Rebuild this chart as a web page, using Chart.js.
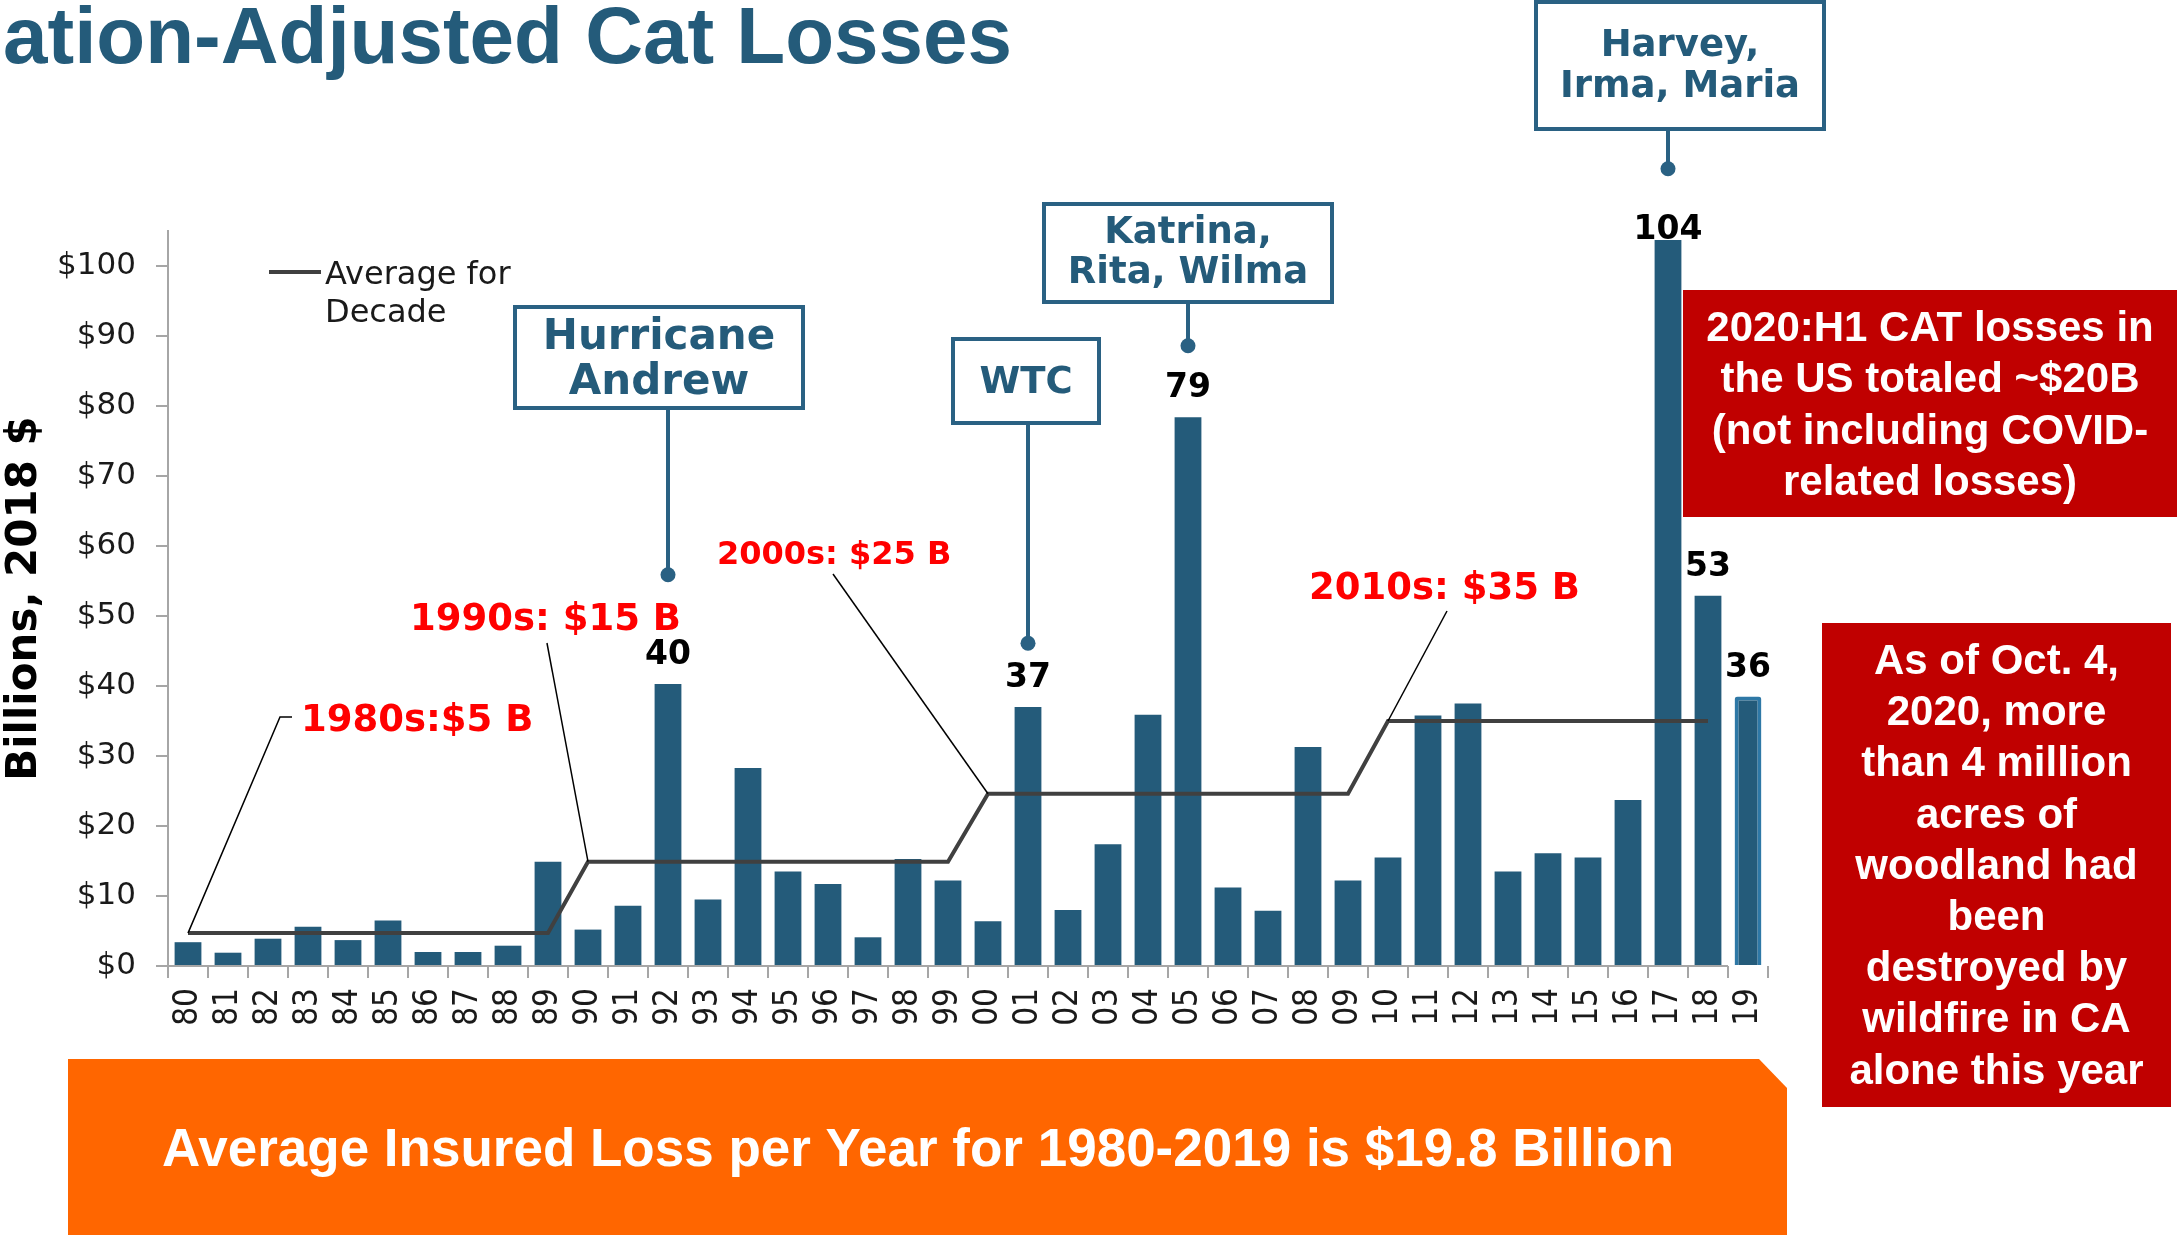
<!DOCTYPE html>
<html>
<head>
<meta charset="utf-8">
<script src="https://cdn.jsdelivr.net/npm/chart.js@4.4.1/dist/chart.umd.min.js"></script>
<style>
html, body { margin: 0; padding: 0; background: #fff; }
canvas { display: block; }
</style>
</head>
<body>
<canvas id="catChart" width="2177" height="1235"></canvas>
<script>
// Data (billions, 2018 $)
const years = ['80', '81', '82', '83', '84', '85', '86', '87', '88', '89',
    '90', '91', '92', '93', '94', '95', '96', '97', '98', '99',
    '00', '01', '02', '03', '04', '05', '06', '07', '08', '09',
    '10', '11', '12', '13', '14', '15', '16', '17', '18', '19'];
const losses = [3.4, 1.9, 3.9, 5.6, 3.7, 6.5, 2.0, 2.0, 2.9, 14.9,
    5.2, 8.6, 40.3, 9.5, 28.3, 13.5, 11.7, 4.1, 15.3, 12.2,
    6.4, 37.0, 8.0, 17.4, 35.9, 78.4, 11.2, 7.9, 31.3, 12.2,
    15.5, 35.8, 37.5, 13.5, 16.1, 15.5, 23.7, 103.7, 52.9, 38.5];
const decadeAvg = [4.7, 4.7, 4.7, 4.7, 4.7, 4.7, 4.7, 4.7, 4.7, 4.7,
    14.9, 14.9, 14.9, 14.9, 14.9, 14.9, 14.9, 14.9, 14.9, 14.9,
    24.6, 24.6, 24.6, 24.6, 24.6, 24.6, 24.6, 24.6, 24.6, 24.6,
    35, 35, 35, 35, 35, 35, 35, 35, 35, null];
const valueLabels = [null, null, null, null, null, null, null, null, null, null,
    null, null, '40', null, null, null, null, null, null, null,
    null, '37', null, null, null, '79', null, null, null, null,
    null, null, null, null, null, null, null, '104', '53', '36'];
const yTicks = [0, 10, 20, 30, 40, 50, 60, 70, 80, 90, 100];

const barBlue = '#245B7A';
const boxBlue = '#2A6183';
const lastBar = years.length - 1;

// Annotation layout (pixels), kept apart from the data
const decadeNotes = [
    { text: '1980s:$5 B', at: 0, size: 37, x: 301, baseline: 731, path: [[292, 717], [280, 717]] },
    { text: '1990s: $15 B', at: 10, size: 37, x: 410, baseline: 630, path: [[547, 643]] },
    { text: '2000s: $25 B', at: 20, size: 32, x: 717, baseline: 564, path: [[833, 574]] },
    { text: '2010s: $35 B', at: 30, size: 37, x: 1309, baseline: 599, path: [[1447, 611]] }
];
const callouts = [
    { lines: ['Hurricane', 'Andrew'], at: 12, dotValue: 55.9, size: 42, box: [515, 307, 288, 101], baselines: [349, 394] },
    { lines: ['WTC'], at: 21, dotValue: 46.1, size: 37, box: [953, 339, 146, 84], baselines: [393] },
    { lines: ['Katrina,', 'Rita, Wilma'], at: 25, dotValue: 88.6, size: 37, box: [1044, 204, 288, 98], baselines: [243, 283] },
    { lines: ['Harvey,', 'Irma, Maria'], at: 37, dotValue: 113.9, size: 37, box: [1536, 2, 288, 127], baselines: [56, 97] }
];
const sideBoxes = [
    { rect: [1683, 290, 500, 227], first: 341, step: 51.3,
      lines: ['2020:H1 CAT losses in', 'the US totaled ~$20B', '(not including COVID-', 'related losses)'] },
    { rect: [1822, 623, 349, 484], first: 674, step: 51.2,
      lines: ['As of Oct. 4,', '2020, more', 'than 4 million', 'acres of', 'woodland had',
              'been', 'destroyed by', 'wildfire in CA', 'alone this year'] }
];
const legendLines = ['Average for', 'Decade'];
const bannerText = 'Average Insured Loss per Year for 1980-2019 is $19.8 Billion';
const titleText = 'ation-Adjusted Cat Losses';

const overlay = {
    id: 'overlay',
    afterDatasetsDraw(chart) {
        const ctx = chart.ctx;
        const xs = chart.scales.x, ys = chart.scales.y;
        const area = chart.chartArea;
        ctx.save();

        // x axis line stops at the end of the '18' category
        const axisEnd = (xs.getPixelForValue(lastBar - 1) + xs.getPixelForValue(lastBar)) / 2;
        ctx.strokeStyle = '#A6A6A6';
        ctx.lineWidth = 2;
        ctx.beginPath();
        ctx.moveTo(area.left, area.bottom);
        ctx.lineTo(axisEnd, area.bottom);
        ctx.stroke();

        // values above the bars
        const bars = chart.getDatasetMeta(0).data;
        ctx.fillStyle = '#000';
        ctx.font = 'bold 33px "DejaVu Sans"';
        ctx.textAlign = 'center';
        ctx.textBaseline = 'alphabetic';
        valueLabels.forEach((txt, i) => {
            if (!txt) return;
            const b = bars[i];
            const base = Math.max(b.y - 20, area.top + 8);
            ctx.fillText(txt, b.x, base);
        });

        // legend
        ctx.strokeStyle = '#404040';
        ctx.lineWidth = 4;
        ctx.beginPath();
        ctx.moveTo(269, 272);
        ctx.lineTo(321, 272);
        ctx.stroke();
        ctx.fillStyle = '#1a1a1a';
        ctx.font = '32px "DejaVu Sans"';
        ctx.textAlign = 'left';
        ctx.fillText(legendLines[0], 325, 284);
        ctx.fillText(legendLines[1], 325, 322);

        // decade average notes with leader lines
        decadeNotes.forEach(n => {
            const px = xs.getPixelForValue(n.at);
            const py = ys.getPixelForValue(decadeAvg[n.at]);
            ctx.strokeStyle = '#000';
            ctx.lineWidth = 1.5;
            ctx.beginPath();
            ctx.moveTo(n.path[0][0], n.path[0][1]);
            n.path.slice(1).forEach(p => ctx.lineTo(p[0], p[1]));
            ctx.lineTo(px, py);
            ctx.stroke();
            ctx.fillStyle = '#FF0000';
            ctx.font = 'bold ' + n.size + 'px "DejaVu Sans"';
            ctx.textAlign = 'left';
            ctx.fillText(n.text, n.x, n.baseline);
        });

        // event callouts
        callouts.forEach(c => {
            const [bx, by, bw, bh] = c.box;
            const px = xs.getPixelForValue(c.at);
            const dy = ys.getPixelForValue(c.dotValue);
            ctx.strokeStyle = boxBlue;
            ctx.fillStyle = boxBlue;
            ctx.lineWidth = 4;
            ctx.beginPath();
            ctx.moveTo(px, by + bh);
            ctx.lineTo(px, dy);
            ctx.stroke();
            ctx.beginPath();
            ctx.arc(px, dy, 7.5, 0, Math.PI * 2);
            ctx.fill();
            ctx.fillStyle = '#fff';
            ctx.fillRect(bx, by, bw, bh);
            ctx.strokeRect(bx, by, bw, bh);
            ctx.fillStyle = barBlue;
            ctx.font = 'bold ' + c.size + 'px "DejaVu Sans"';
            ctx.textAlign = 'center';
            c.lines.forEach((l, k) => ctx.fillText(l, bx + bw / 2, c.baselines[k]));
        });
        ctx.restore();
    },
    afterDraw(chart) {
        const ctx = chart.ctx;
        ctx.save();

        // title (cut off on the left in the original slide)
        ctx.fillStyle = barBlue;
        ctx.font = 'bold 80px "Liberation Sans"';
        ctx.textAlign = 'left';
        ctx.textBaseline = 'alphabetic';
        ctx.fillText(titleText, 3, 63);

        // red side boxes
        sideBoxes.forEach(s => {
            const [x, y, w, h] = s.rect;
            ctx.fillStyle = '#C00000';
            ctx.fillRect(x, y, w, h);
            ctx.fillStyle = '#fff';
            ctx.font = 'bold 42px "Liberation Sans"';
            ctx.textAlign = 'center';
            const cx = x + Math.min(w, chart.width - x) / 2;
            s.lines.forEach((l, k) => ctx.fillText(l, cx, s.first + k * s.step));
        });

        // orange banner with clipped corner
        ctx.fillStyle = '#FF6600';
        ctx.beginPath();
        ctx.moveTo(68, 1059);
        ctx.lineTo(1759, 1059);
        ctx.lineTo(1787, 1088);
        ctx.lineTo(1787, 1235);
        ctx.lineTo(68, 1235);
        ctx.closePath();
        ctx.fill();
        ctx.fillStyle = '#fff';
        ctx.font = 'bold 53px "Liberation Sans"';
        ctx.textAlign = 'center';
        ctx.fillText(bannerText, 918, 1166);
        ctx.restore();
    }
};

const ctx1 = document.getElementById('catChart').getContext('2d');
const catChart = new Chart(ctx1, {
    type: 'bar',
    data: {
        labels: years,
        datasets: [{
            label: 'Insured cat losses',
            data: losses,
            backgroundColor: barBlue,
            borderColor: years.map((_, i) => i === lastBar ? '#2E78A6' : barBlue),
            borderWidth: years.map((_, i) => i === lastBar ? 4 : 0),
            borderRadius: years.map((_, i) => i === lastBar ? 3 : 0),
            barPercentage: 0.67,
            categoryPercentage: 1.0,
            order: 1
        },
        {
            type: 'line',
            label: 'Average for Decade',
            data: decadeAvg,
            borderColor: '#404040',
            borderWidth: 4,
            pointRadius: 0,
            tension: 0,
            spanGaps: false,
            order: 0
        }]
    },
    options: {
        responsive: false,
        animation: false,
        devicePixelRatio: 1,
        layout: { padding: { top: 231, right: 409, bottom: 0, left: 0 } },
        plugins: {
            legend: { display: false },
            tooltip: { enabled: false }
        },
        scales: {
            x: {
                afterFit: (s) => { s.height = 269; },
                border: { display: false },
                grid: {
                    offset: true,
                    drawOnChartArea: false,
                    tickLength: 12,
                    lineWidth: 2,
                    color: (c) => c.index === years.length ? 'rgba(0,0,0,0)' : '#A6A6A6'
                },
                ticks: {
                    autoSkip: false,
                    minRotation: 90,
                    maxRotation: 90,
                    padding: 10,
                    color: '#1a1a1a',
                    font: { family: '"DejaVu Sans Condensed", "DejaVu Sans"', size: 33 }
                }
            },
            y: {
                min: 0,
                max: 105,
                afterFit: (s) => { s.width = 168; },
                afterBuildTicks: (axis) => {
                    axis.ticks = yTicks.map(v => ({ value: v }));
                },
                border: { display: true, color: '#A6A6A6', width: 2 },
                grid: {
                    drawOnChartArea: false,
                    tickLength: 12,
                    lineWidth: 2,
                    color: '#A6A6A6'
                },
                ticks: {
                    padding: 20,
                    color: '#1a1a1a',
                    font: { family: 'DejaVu Sans', size: 31 },
                    callback: (v) => '$' + v
                },
                title: {
                    display: true,
                    text: 'Billions, 2018 $',
                    color: '#000',
                    padding: 0,
                    font: { family: 'DejaVu Sans', size: 42, weight: 'bold' }
                }
            }
        }
    },
    plugins: [overlay]
});
</script>
</body>
</html>
